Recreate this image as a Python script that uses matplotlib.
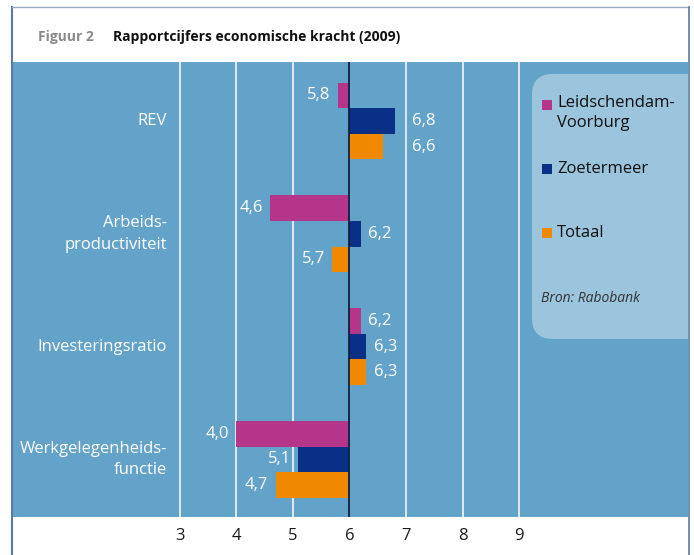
import matplotlib
matplotlib.use("Agg")
import matplotlib.pyplot as plt
from matplotlib.patches import FancyBboxPatch, Rectangle
from matplotlib.lines import Line2D
from matplotlib.transforms import blended_transform_factory

plt.rcParams['font.family'] = ['Open Sans', 'DejaVu Sans']

# data
categories = ['REV', 'Arbeids-\nproductiviteit', 'Investeringsratio', 'Werkgelegenheids-\nfunctie']
series = ['Leidschendam-\nVoorburg', 'Zoetermeer', 'Totaal']
leidschendam = [5.8, 4.6, 6.2, 4.0]
zoetermeer = [6.8, 6.2, 6.3, 5.1]
totaal = [6.6, 5.7, 6.3, 4.7]
ticks = [3, 4, 5, 6, 7, 8, 9]
base = 6

panel_col = '#64a3c9'
box_col = '#9bc4dd'
colors = ['#b5358a', '#0a2f87', '#f08800']

W, H = 694, 555
fig = plt.figure(figsize=(W / 100, H / 100), dpi=100)

def fx(x):
    return x / W

def fy(y):
    return 1 - y / H

ax = fig.add_axes([fx(12), fy(517), fx(688) - fx(12), fy(62) - fy(517)])
ax.set_facecolor(panel_col)
ax.set_xlim(0.041, 11.98)
ax.set_ylim(3.51, -0.523)
for s in ax.spines.values():
    s.set_visible(False)

# gridlines
for t in ticks:
    if t != base:
        ax.axvline(t, color='white', lw=1.1, zorder=1)
ax.axvline(base, color='#0d1f3c', lw=1.3, zorder=5)

# bars + value labels
h = 0.227
gap = 0.13
lw_est = 0.38
for j, (vals, col) in enumerate(zip([leidschendam, zoetermeer, totaal], colors)):
    for i, v in enumerate(vals):
        y = i + (j - 1) * h
        ax.barh(y, v - base, left=base, height=h, color=col, zorder=3)
        txt = ('%.1f' % v).replace('.', ',')
        if v >= base:
            x0 = v + gap
            for t in ticks:
                if x0 < t < x0 + lw_est:
                    x0 = t + 0.1
            ax.text(x0, y, txt, ha='left', va='center', color='white', fontsize=12, zorder=6)
        else:
            x1 = v - gap
            for t in ticks:
                if x1 - lw_est < t < x1:
                    x1 = t - 0.12
            ax.text(x1, y, txt, ha='right', va='center', color='white', fontsize=12, zorder=6)

# category labels
tr = blended_transform_factory(fig.transFigure, ax.transData)
for i, c in enumerate(categories):
    ax.text(fx(167), i, c, transform=tr, ha='right', va='center', multialignment='right',
            color='white', fontsize=12, linespacing=1.45)

ax.set_xticks(ticks)
ax.set_xticklabels([str(t) for t in ticks])
ax.tick_params(axis='x', length=0, pad=8, labelsize=12, colors='#1a1a1a')
ax.set_yticks([])

# legend box
box = FancyBboxPatch((fx(532), fy(339)), fx(730) - fx(532), fy(74) - fy(339),
                     boxstyle='round,pad=0,rounding_size=0.03', mutation_aspect=W / H,
                     transform=fig.transFigure, fc=box_col, ec='none', zorder=2)
ax.add_patch(box)

leg_y = [105, 169, 233]
for name, col, ly in zip(series, colors, leg_y):
    fig.add_artist(Rectangle((fx(542), fy(ly + 4.5)), 9.5 / W, 9.5 / H,
                             transform=fig.transFigure, fc=col, ec='none'))
    fig.text(fx(557), fy(ly), name, ha='left', va='top' if '\n' in name else 'center',
             fontsize=12, color='#111111', linespacing=1.35)
fig.texts[0].set_position((fx(557), fy(95)))
fig.text(fx(541), fy(298), 'Bron: Rabobank', ha='left', va='center', fontsize=10,
         style='italic', color='#333333')

# title
fig.text(fx(38), fy(37), 'Figuur 2', ha='left', va='center', fontsize=10,
         weight='bold', color='#8a8a8a')
fig.text(fx(113), fy(37), 'Rapportcijfers economische kracht (2009)', ha='left',
         va='center', fontsize=10, weight='bold', color='#111111')

# frame
fig.add_artist(Line2D([fx(12), fx(12)], [fy(7), 0], color='#5a78a8', lw=1.5))
fig.add_artist(Line2D([fx(12), fx(689)], [fy(7), fy(7)], color='#9aaac0', lw=1))
fig.add_artist(Line2D([fx(689), fx(689)], [fy(7), 0], color='#5a78a8', lw=1.2))

fig.savefig('out.png', dpi=100)
